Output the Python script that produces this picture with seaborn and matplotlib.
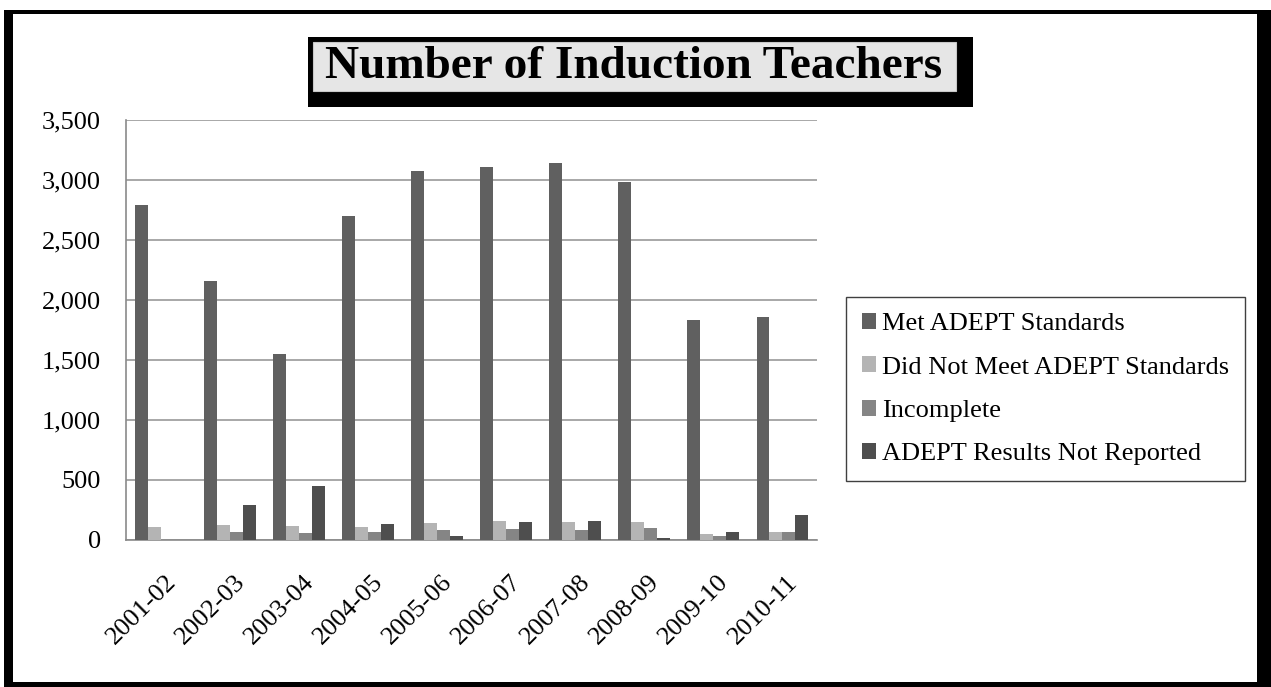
import matplotlib
matplotlib.use("Agg")
import matplotlib.pyplot as plt
from matplotlib.patches import Rectangle
from matplotlib.ticker import StrMethodFormatter
from matplotlib.transforms import ScaledTranslation
import seaborn as sns
import pandas as pd

# ---- data ----
years = ["2001-02", "2002-03", "2003-04", "2004-05", "2005-06",
         "2006-07", "2007-08", "2008-09", "2009-10", "2010-11"]
met = [2790, 2155, 1550, 2700, 3078, 3111, 3142, 2981, 1831, 1858]
did_not_meet = [106, 122, 117, 106, 139, 158, 147, 147, 53, 70]
incomplete = [0, 70, 56, 70, 81, 89, 81, 100, 36, 70]
not_reported = [0, 292, 452, 133, 36, 150, 158, 17, 64, 208]

series_names = ["Met ADEPT Standards", "Did Not Meet ADEPT Standards",
                "Incomplete", "ADEPT Results Not Reported"]
series_colors = ["#606060", "#b4b4b4", "#858585", "#4e4e4e"]
y_ticks = [0, 500, 1000, 1500, 2000, 2500, 3000, 3500]
title_text = "Number of Induction Teachers"

rows = []
for name, vals in zip(series_names, [met, did_not_meet, incomplete, not_reported]):
    for yr, v in zip(years, vals):
        rows.append({"Year": yr, "Status": name, "Teachers": v})
df = pd.DataFrame(rows)

# ---- style ----
sns.set_style("white")
plt.rcParams["font.family"] = ["Liberation Serif", "DejaVu Serif"]

W, H = 1271, 687
fig = plt.figure(figsize=(W / 100, H / 100), dpi=100)


def fx(x):
    return x / W


def fy(y):
    return 1 - y / H


def box(x0, y0, x1, y1, **kw):
    fig.patches.append(Rectangle((fx(x0), fy(y1)), fx(x1) - fx(x0), fy(y0) - fy(y1),
                                 transform=fig.transFigure, **kw))


# page frame with a heavy black edge
box(4, 10, W, H, facecolor="black", edgecolor="none", zorder=-10)
box(13, 14, 1257, 682, facecolor="white", edgecolor="none", zorder=-9)

# title panel with drop shadow
box(308, 37, 973, 107, facecolor="black", edgecolor="none", zorder=1)
box(313, 42, 956, 91, facecolor="#e6e6e6", edgecolor="#c8c8c8", linewidth=0.8, zorder=2)
fig.text(fx(634), fy(78), title_text, ha="center", va="baseline",
         fontsize=34, fontweight="bold", color="black", zorder=3)

# ---- chart ----
ax = fig.add_axes([fx(126), fy(540), fx(817) - fx(126), fy(120) - fy(540)])
ax.set_zorder(5)
ax.set_facecolor("white")
sns.barplot(data=df, x="Year", y="Teachers", hue="Status", hue_order=series_names,
            order=years, palette=series_colors, width=0.75, dodge=True,
            errorbar=None, saturation=1, linewidth=0, ax=ax, zorder=3)

ax.set_ylim(0, 3500)
ax.set_xlim(-0.5, len(years) - 0.5)
ax.set_yticks(y_ticks)
ax.yaxis.set_major_formatter(StrMethodFormatter("{x:,.0f}"))
ax.yaxis.grid(True, color="#9a9a9a", linewidth=1.2, zorder=0)
ax.set_axisbelow(True)
ax.set_xlabel("")
ax.set_ylabel("")

for side in ["top", "right"]:
    ax.spines[side].set_visible(False)
for side in ["left", "bottom"]:
    ax.spines[side].set_color("#8a8a8a")
    ax.spines[side].set_linewidth(1.2)

ax.tick_params(axis="y", length=0, pad=18, labelsize=19, colors="black")
ax.tick_params(axis="x", length=0, pad=28, labelsize=19, colors="black")
shift = ScaledTranslation(0.12, 0, fig.dpi_scale_trans)
for lab in ax.get_xticklabels():
    lab.set_rotation(45)
    lab.set_rotation_mode("anchor")
    lab.set_ha("right")
    lab.set_va("center")
    lab.set_transform(lab.get_transform() + shift)

# ---- legend ----
handles, labels = ax.get_legend_handles_labels()
ax.legend_.remove()
leg = fig.legend(handles, labels, loc="upper left",
                 bbox_to_anchor=(fx(846), fy(297)), bbox_transform=fig.transFigure,
                 borderaxespad=0, fontsize=19, frameon=True, fancybox=False,
                 edgecolor="#404040", framealpha=1, borderpad=0.6,
                 labelspacing=0.8, handlelength=0.55, handleheight=0.55,
                 handletextpad=0.2, labelcolor="black")
leg.get_frame().set_linewidth(1.0)
leg.set_zorder(6)

fig.savefig("out.png", dpi=100, facecolor="white")
